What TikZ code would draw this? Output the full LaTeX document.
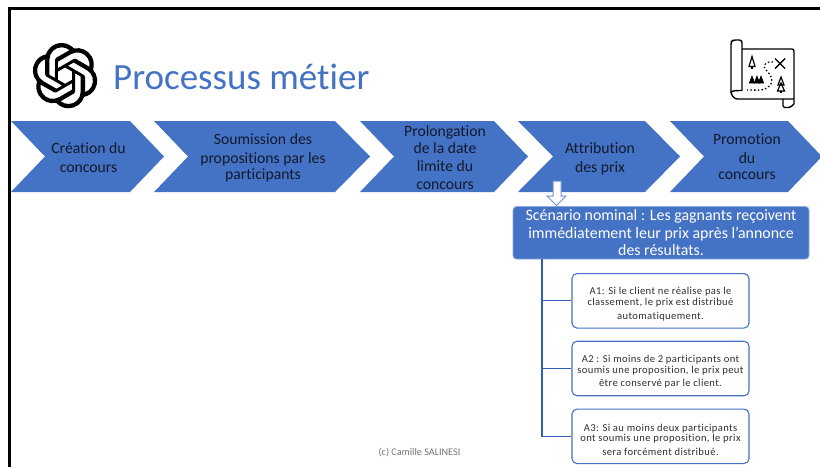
\documentclass[tikz,border=0pt]{standalone}
\usepackage{fontspec}
\setmainfont{Carlito}[Ligatures=NoCommon]
\usetikzlibrary{svg.path}
\definecolor{bleu}{HTML}{4472C4}
\definecolor{titre}{HTML}{4472C4}
\definecolor{trait}{HTML}{2F5DAF}
\definecolor{clair}{HTML}{8FAADC}
\definecolor{encre}{HTML}{111A2E}
\definecolor{gristxt}{HTML}{303030}
\newcommand{\hautligne}{\rule{0pt}{14pt}}
\tikzset{
  x=1pt,y=-1pt,
  chev/.style={fill=bleu,draw=none},
  chevtxt/.style={font=\fontsize{15.7}{17}\selectfont,text=encre,align=center,inner sep=0pt},
  altbox/.style={draw=bleu,line width=1.1pt,rounded corners=5pt,fill=white,minimum width=177pt,minimum height=54.5pt,inner sep=0pt,font=\fontsize{10.6}{11.5}\selectfont\addfontfeature{LetterSpace=3.5},text=gristxt,align=center},
  scen/.style={fill=bleu,draw=clair,line width=0.8pt,rounded corners=3.5pt,minimum width=296pt,minimum height=52.5pt,inner sep=0pt,font=\fontsize{15.9}{17}\selectfont,text=white,align=center},
  lien/.style={draw=trait,line width=1.2pt},
  ico/.style={draw=black,line width=1.4pt,line join=round,fill=none},
  tree/.style={draw=black,line width=1.2pt,line join=miter,fill=none},
}
\begin{document}
\begin{tikzpicture}
\useasboundingbox (0,0) rectangle (820,467);
% frame
\draw[black,line width=2.4pt] (9.5,467) -- (9.5,8.5) -- (820,8.5);
% logo
\begin{scope}[shift={(32.4,43)},scale=2.72,yscale=-1]
\fill[black,even odd rule] svg {M22.2819 9.8211 a5.9847 5.9847 0 0 0 -.5157 -4.9108 a6.0462 6.0462 0 0 0 -6.5098 -2.9 A6.0651 6.0651 0 0 0 4.9807 4.1818 a5.9847 5.9847 0 0 0 -3.9977 2.9 a6.0462 6.0462 0 0 0 .7427 7.0966 a5.98 5.98 0 0 0 .511 4.9107 a6.051 6.051 0 0 0 6.5146 2.9001 A5.9847 5.9847 0 0 0 13.2599 24 a6.0557 6.0557 0 0 0 5.7718 -4.2058 a5.9894 5.9894 0 0 0 3.9977 -2.9001 a6.0557 6.0557 0 0 0 -.7475 -7.0729 z
M13.2599 22.4292 a4.4755 4.4755 0 0 1 -2.8764 -1.0408 l.1419 -.0804 l4.7783 -2.7582 l.3927 -.6813 v-6.7369 l2.02 1.1686 l.038 .052 v5.5826 a4.504 4.504 0 0 1 -4.4945 4.4944 z
M3.5992 18.3038 a4.4708 4.4708 0 0 1 -.5346 -3.0137 l.142 .0852 l4.783 2.7582 l.7806 0 l5.8428 -3.3685 v2.3324 l-.0332 .0615 L9.74 19.9502 a4.4992 4.4992 0 0 1 -6.1408 -1.6464 z
M2.3408 7.8956 a4.485 4.485 0 0 1 2.3655 -1.9728 V11.6 l.3879 .6765 l5.8144 3.3543 l-2.0201 1.1685 l-.071 0 l-4.8303 -2.7865 A4.504 4.504 0 0 1 2.3408 7.872 z
M18.9371 11.7514 L13.1038 8.364 L15.1192 7.2 l.071 0 l4.8303 2.7913 a4.4944 4.4944 0 0 1 -.6765 8.1042 v-5.6772 l-.407 -.667 z
M20.9478 8.7283 l-.142 -.0852 l-4.7735 -2.7818 l-.7854 0 L9.409 9.2297 V6.8974 l.0284 -.0615 l4.8303 -2.7866 a4.4992 4.4992 0 0 1 6.6802 4.66 z
M8.3065 12.863 l-2.02 -1.1638 l-.038 -.0567 V6.0742 a4.4992 4.4992 0 0 1 7.3757 -3.4537 l-.142 .0805 L8.704 5.459 l-.3927 .6813 z
M9.4041 10.4976 l2.602 -1.4998 l2.6069 1.4998 v2.9994 l-2.5974 1.4997 l-2.6067 -1.4997 z};
\end{scope}
% title
\node[anchor=base west,inner sep=0pt,text=titre,font=\fontsize{37}{40}\selectfont] (title) at (113,89) {Processus métier};
% map icon
\draw[ico,rounded corners=2pt] (742,49) -- (794,49) -- (794,104);
\draw[ico,rounded corners=2.5pt] (742,90.5) -- (742,40) -- (733,40) -- (731,42) -- (731,94) -- (735,99) -- (794,99);
\draw[ico] (731,93) .. controls (731,91) and (733,90.5) .. (742,90.5);
\draw[ico,rounded corners=1.5pt] (783,99) -- (783,107.5) -- (790,107.5) -- (794,104);
\draw[tree] (752,56.5) -- (755,66.5) -- (749,66.5) -- cycle;
\draw[tree] (752,66.5) -- (752,69);
\draw[ico] (775,58.5) -- (785,68.5) (785,58.5) -- (775,68.5);
\draw[black,line width=1.3pt,dash pattern=on 1.5pt off 2.2pt] (773,62) .. controls (766,61) and (761,66) .. (767,71) .. controls (772,76) and (775,82) .. (767,88) .. controls (762,91) and (755,90) .. (747,90);
\foreach \tx in {752,757,761}{\draw[tree,fill=black,line width=.6pt] (\tx,76) -- (\tx+2.7,83) -- (\tx-2.7,83) -- cycle;}
\draw[tree] (781,77) -- (784,85) -- (778,85) -- cycle;
\draw[tree] (781,83) -- (784.5,91) -- (777.5,91) -- cycle;
\draw[tree] (781,91) -- (781,93);
% chevrons
\fill[chev] (11,121) -- (130,121) -- (164,156.5) -- (130,192) -- (11,192) -- (45,156.5) -- cycle;
\fill[chev] (154,121) -- (335,121) -- (370,156.5) -- (335,192) -- (154,192) -- (188,156.5) -- cycle;
\fill[chev] (360,121) -- (494,121) -- (528,156.5) -- (494,192) -- (360,192) -- (394,156.5) -- cycle;
\fill[chev] (518,121) -- (645,121) -- (680,156.5) -- (645,192) -- (518,192) -- (553,156.5) -- cycle;
\fill[chev] (670,121) -- (788,121) -- (822,156.5) -- (788,192) -- (670,192) -- (704,156.5) -- cycle;
\node[chevtxt] (c1) at (88.5,157.8) {Création du\\[2pt]concours};
\node[chevtxt] (c2) at (263,158) {Soumission des\\[2pt]propositions par les\\[-1pt]participants};
\node[chevtxt] (c3) at (445,157.3) {Prolongation\\[.7pt]de la date\\[.7pt]limite du\\[.7pt]concours};
\node[chevtxt] (c4) at (600,158.5) {Attribution\\[2pt]des prix};
\node[chevtxt] (c5) at (747,157) {Promotion\\[2pt]du\\[-1pt]concours};
% scenario
\node[scen] (sc) at (661,232.8) {Scénario nominal : Les gagnants reçoivent\\[.5pt]immédiatement leur prix après l'annonce\\[.5pt]des résultats.};
% block arrow
\draw[draw=clair!60!bleu,line width=1pt,fill=white,line join=miter] (553,181) -- (561,181) -- (561,196) -- (566,196) -- (556.5,205.5) -- (547,196) -- (553,196) -- cycle;
% alternatives
\node[altbox] (a1) at (660.5,300.8) {\hautligne A1: Si le client ne réalise pas le\\[-1pt]classement, le prix est distribué\\[2.2pt]automatiquement.};
\node[altbox] (a2) at (660.5,368.5) {\hautligne A2 : Si moins de 2 participants ont\\[-1pt]soumis une proposition, le prix peut\\[2.2pt]être conservé par le client.};
\node[altbox] (a3) at (660.5,436.3) {\hautligne A3: Si au moins deux participants\\[-1pt]ont soumis une proposition, le prix\\[2.2pt]sera forcément distribué.};
\coordinate (trunk) at (542,259);
\draw[lien] (trunk) |- (a1.west);
\draw[lien] (trunk) |- (a2.west);
\draw[lien] (trunk) |- (a3.west);
% footer
\node[inner sep=0pt,text=black!55,font=\fontsize{10.2}{12}\selectfont] (foot) at (419.5,452) {(c) Camille SALINESI};
\end{tikzpicture}
\end{document}
